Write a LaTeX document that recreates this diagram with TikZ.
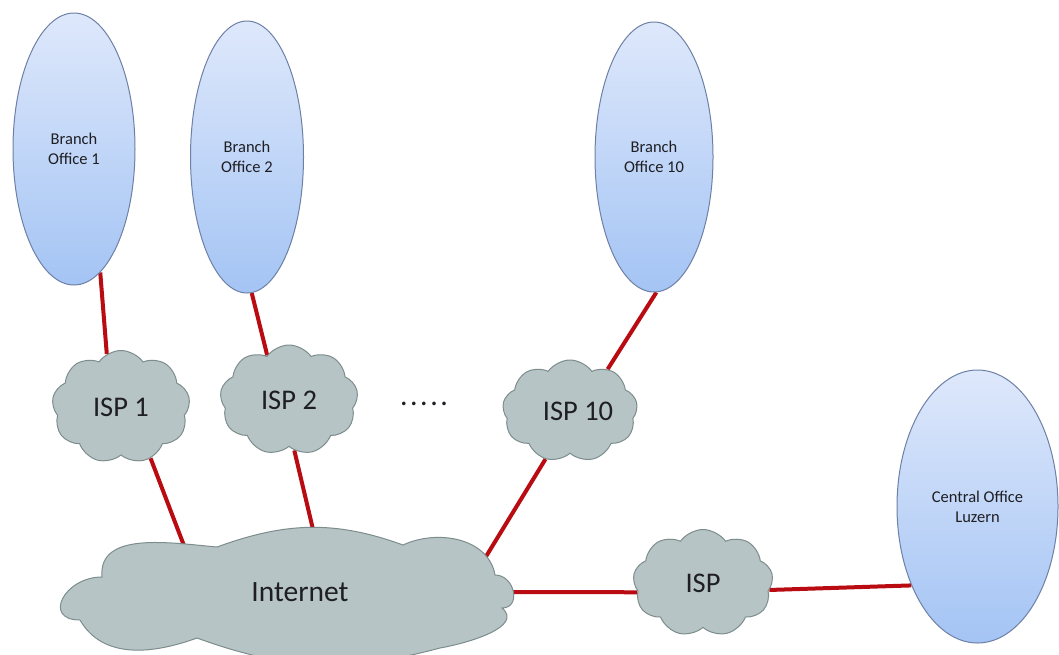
\documentclass[tikz,border=0pt]{standalone}
\usepackage{fontspec}
\setmainfont{Carlito}
\usetikzlibrary{shapes.geometric,shapes.symbols,backgrounds}
\definecolor{ellTop}{RGB}{222,232,251}
\definecolor{ellBot}{RGB}{164,196,244}
\definecolor{ellLine}{RGB}{110,128,165}
\definecolor{cloudFill}{RGB}{182,196,197}
\definecolor{cloudLine}{RGB}{125,140,140}
\definecolor{linkRed}{RGB}{185,12,18}
\definecolor{txt}{RGB}{30,30,35}
\begin{document}
\begin{tikzpicture}[x=1pt,y=-1pt,
 office/.style={ellipse, draw=ellLine, line width=1pt, top color=ellTop, bottom color=ellBot, inner sep=0pt, align=center, text=txt, font=\fontsize{16.5}{20}\selectfont},
 isp/.style={cloud, cloud ignores aspect, cloud puffs=9, cloud puff arc=110, draw=cloudLine, line width=1pt, fill=cloudFill, inner sep=0pt, text=txt, font=\fontsize{28.5}{34}\selectfont},
 bigcloud/.style={draw=cloudLine, line width=1pt, fill=cloudFill},
 link/.style={draw=linkRed, line width=4pt}]
\useasboundingbox (0,0) rectangle (1059,654);

\node[office, minimum width=122, minimum height=272] (bo1) at (74,149) {Branch\\Office 1};
\node[office, minimum width=113, minimum height=272] (bo2) at (247,157) {Branch\\Office 2};
\node[office, minimum width=118, minimum height=270] (bo10) at (654,157) {Branch\\Office 10};
\node[office, minimum width=161, minimum height=273] (co) at (977.5,506.5) {Central Office\\Luzern};

\node[isp, minimum width=138, minimum height=113] (isp1) at (121,407) {ISP 1};
\node[isp, minimum width=138, minimum height=110] (isp2) at (289,400) {ISP 2};
\node[isp, minimum width=135, minimum height=102] (isp10) at (570,411) {\hspace*{16pt}ISP 10};
\node[isp, minimum width=140, minimum height=107] (ispc) at (703,583) {ISP};

% Internet cloud outline
\path[bigcloud] (80,620)
  to[out=180, in=180, looseness=2] (102,577)
  to[out=95, in=175] (217,547)
  to[out=20, in=160] (403,545)
  to[out=25, in=100] (495,575)
  to[out=0, in=0, looseness=1.5] (502,608)
  to[out=-40, in=10] (440,648)
  to[out=-165, in=-20] (197,638)
  to[out=-160, in=-60] (80,620) -- cycle;
\node[ellipse, inner sep=0pt, minimum width=440, minimum height=100, text=txt, font=\fontsize{29.5}{35}\selectfont] (inet) at (285,592) {\hspace*{30pt}Internet};

\node[text=txt, font=\fontsize{30}{34}\selectfont] (dots) at (424,404) {.\kern2.5pt.\kern2.5pt.\kern2.5pt.\kern2.5pt.};

\begin{scope}[on background layer]
\fill[white] (0,0) rectangle (1059,654);
\draw[link] (bo1.-78) -- (isp1.105);
\draw[link] (isp1.-60) -- (inet.156.2);
\draw[link] (bo2.-88) -- (isp2.116);
\draw[link] (isp2.-84) -- (inet.58);
\draw[link] (bo10.-89) -- (isp10.48);
\draw[link] (isp10.-117) -- (inet.7.2);
\draw[link] (inet.0) -- (ispc.-172);
\draw[link] (ispc.-6) -- (co.-130);
\end{scope}
\end{tikzpicture}
\end{document}
